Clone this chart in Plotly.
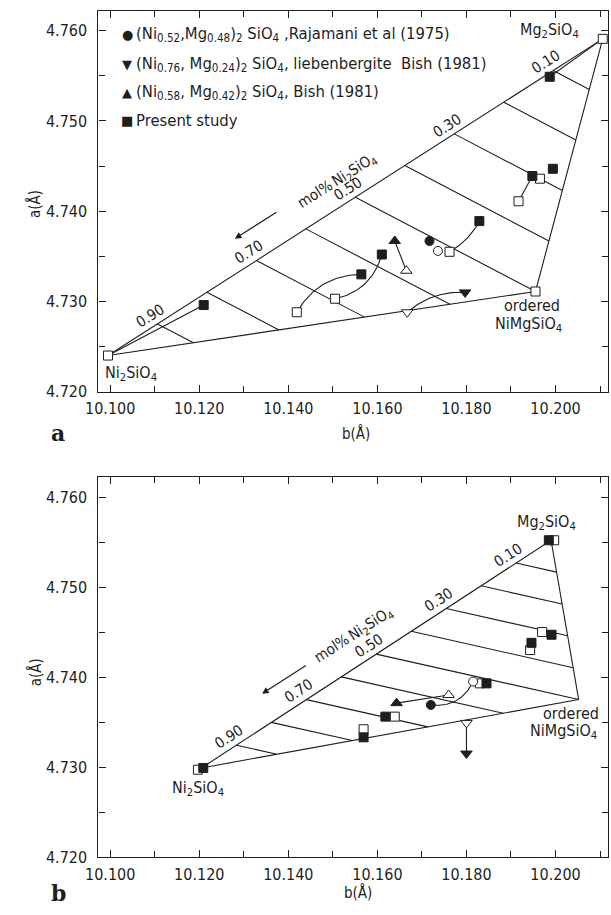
import math
import numpy as np
import plotly.graph_objects as go

W, H = 611, 915

# ---------------- data ----------------
# end members: Ni2SiO4, Mg2SiO4, ordered NiMgSiO4   (b, a in Angstrom)
end_names = ["Ni2SiO4", "Mg2SiO4", "ordered NiMgSiO4"]
a_end_b = [10.0995, 10.2106, 10.1955]
a_end_a = [4.7240, 4.7591, 4.7311]
b_end_b = [10.1205, 10.1990, 10.2052]
b_end_a = [4.7299, 4.7552, 4.7375]

tie_fracs = [0.1, 0.2, 0.3, 0.4, 0.5, 0.6, 0.7, 0.8, 0.9]
comp_label_fracs = [0.1, 0.3, 0.5, 0.7, 0.9]
comp_labels = ["0.10", "0.30", "0.50", "0.70", "0.90"]

# panel a
a_fsq_b = [10.1987, 10.1994, 10.1948, 10.1829, 10.1610, 10.1564, 10.1210]
a_fsq_a = [4.7549, 4.7447, 4.7439, 4.7389, 4.7352, 4.7330, 4.7296]
a_osq_b = [10.1965, 10.1917, 10.1762, 10.1505, 10.1419]
a_osq_a = [4.7436, 4.7411, 4.7355, 4.7303, 4.7288]
a_fci_b, a_fci_a = [10.1717], [4.7367]
a_oci_b, a_oci_a = [10.1736], [4.7356]
a_ftu_b, a_ftu_a = [10.1639], [4.7367]
a_otu_b, a_otu_a = [10.1665], [4.7334]
a_ftd_b, a_ftd_a = [10.1797], [4.7310]
a_otd_b, a_otd_a = [10.1667], [4.7288]
# connections (from group, index, to group, index, bend)
a_links = [("end", 1, "fsq", 0, 0.0), ("end", 0, "fsq", 6, 0.0),
           ("osq", 1, "fsq", 2, 0.0), ("osq", 2, "fsq", 3, -0.15),
           ("osq", 4, "fsq", 5, 0.28), ("osq", 3, "fsq", 4, -0.3),
           ("otu", 0, "ftu", 0, 0.0), ("otd", 0, "ftd", 0, 0.2)]

# panel b
b_fsq_b = [10.1985, 10.1991, 10.1946, 10.1845, 10.1618, 10.1569, 10.1209]
b_fsq_a = [4.7552, 4.7447, 4.7438, 4.7393, 4.7356, 4.7333, 4.7299]
b_osq_b = [10.1997, 10.1970, 10.1943, 10.1830, 10.1639, 10.1569, 10.1197]
b_osq_a = [4.7552, 4.7450, 4.7430, 4.7393, 4.7356, 4.7342, 4.7297]
b_fci_b, b_fci_a = [10.1720], [4.7369]
b_oci_b, b_oci_a = [10.1815], [4.7395]
b_ftu_b, b_ftu_a = [10.1643], [4.7371]
b_otu_b, b_otu_a = [10.1760], [4.7380]
b_ftd_b, b_ftd_a = [10.1800], [4.7315]
b_otd_b, b_otd_a = [10.1800], [4.7349]
b_links = [("oci", 0, "fci", 0, 0.35), ("otu", 0, "ftu", 0, 0.0),
           ("otd", 0, "ftd", 0, 0.0)]

x_tick_vals = [10.100, 10.120, 10.140, 10.160, 10.180, 10.200]
x_tick_text = ["10.100", "10.120", "10.140", "10.160", "10.180", "10.200"]
y_tick_vals = [4.720, 4.730, 4.740, 4.750, 4.760]
y_tick_text = ["4.720", "4.730", "4.740", "4.750", "4.760"]

legend_symbols = ["\u25CF", "\u25BC", "\u25B2", "\u25A0"]
legend_texts = [
    "(Ni<sub>0.52</sub>,Mg<sub>0.48</sub>)<sub>2</sub> SiO<sub>4</sub> ,Rajamani et al (1975)",
    "(Ni<sub>0.76</sub>, Mg<sub>0.24</sub>)<sub>2</sub> SiO<sub>4</sub>, liebenbergite \u00a0Bish (1981)",
    "(Ni<sub>0.58</sub>, Mg<sub>0.42</sub>)<sub>2</sub> SiO<sub>4</sub>, Bish (1981)",
    "Present study",
]

# ---------------- layout geometry ----------------
XR = [10.09736, 10.2118]
YR = [4.71995, 4.7622]
X_DOM_PX = [87.3, 608.0]
A_DOM_PX = [11.0, 396.0]     # top, bottom (pixels from top)
B_DOM_PX = [482.0, 866.0]
SX = (X_DOM_PX[1] - X_DOM_PX[0]) / (XR[1] - XR[0])
SY = (A_DOM_PX[1] - A_DOM_PX[0]) / (YR[1] - YR[0])

TXT = "Liberation Sans Narrow, DejaVu Sans Condensed, Arial Narrow, sans-serif"
INK = "#1e1e1e"
LW = 1.1


def to_px(b, a):
    return np.array([(b - XR[0]) * SX, (a - YR[0]) * SY])


def to_data(p):
    return p[0] / SX + XR[0], p[1] / SY + YR[0]


fig = go.Figure()


def panel(xa, ya, end_b, end_a, groups, links, arrow_head, mol_off, lbl_off):
    ni = np.array([end_b[0], end_a[0]])
    mg = np.array([end_b[1], end_a[1]])
    od = np.array([end_b[2], end_a[2]])

    def upper(c):
        return mg + c * (ni - mg)

    def lower(c):
        if c <= 0.5:
            return mg + (c / 0.5) * (od - mg)
        return od + ((c - 0.5) / 0.5) * (ni - od)

    # triangle edges
    ex, ey = [], []
    for p, q in [(ni, mg), (ni, od), (od, mg)]:
        ex += [p[0], q[0], None]
        ey += [p[1], q[1], None]
    fig.add_trace(go.Scatter(x=ex, y=ey, mode="lines", xaxis=xa, yaxis=ya,
                             line=dict(color=INK, width=LW), hoverinfo="skip",
                             showlegend=False))
    # tie lines
    tx, ty = [], []
    for c in tie_fracs:
        p, q = upper(c), lower(c)
        tx += [p[0], q[0], None]
        ty += [p[1], q[1], None]
    fig.add_trace(go.Scatter(x=tx, y=ty, mode="lines", xaxis=xa, yaxis=ya,
                             line=dict(color=INK, width=LW), hoverinfo="skip",
                             showlegend=False))
    # connectors
    for g0, i0, g1, i1, bend in links:
        p0 = to_px(groups[g0][0][i0], groups[g0][1][i0])
        p1 = to_px(groups[g1][0][i1], groups[g1][1][i1])
        d = p1 - p0
        L = float(np.hypot(*d))
        n = np.array([-d[1], d[0]]) / L
        c = (p0 + p1) / 2 + bend * L * n
        t = np.linspace(0, 1, 30)[:, None]
        pts = (1 - t) ** 2 * p0 + 2 * (1 - t) * t * c + t ** 2 * p1
        bx, ay = zip(*[to_data(p) for p in pts])
        fig.add_trace(go.Scatter(x=list(bx), y=list(ay), mode="lines",
                                 xaxis=xa, yaxis=ya, hoverinfo="skip",
                                 line=dict(color=INK, width=LW),
                                 showlegend=False))
    # markers
    styles = {
        "end": ("square", 9, "white"), "osq": ("square", 9, "white"),
        "fsq": ("square", 9, INK), "oci": ("circle", 9, "white"),
        "fci": ("circle", 9, INK), "otu": ("triangle-up", 10, "white"),
        "ftu": ("triangle-up", 10, INK), "otd": ("triangle-down", 10, "white"),
        "ftd": ("triangle-down", 10, INK),
    }
    for key in ["end", "osq", "oci", "otu", "otd", "fsq", "fci", "ftu", "ftd"]:
        if key not in groups:
            continue
        bx, ay = groups[key]
        sym, size, col = styles[key]
        fig.add_trace(go.Scatter(x=bx, y=ay, mode="markers", xaxis=xa, yaxis=ya,
                                 marker=dict(symbol=sym, size=size, color=col,
                                             line=dict(color=INK, width=1)),
                                 hoverinfo="skip", showlegend=False))

    # composition labels along the upper edge
    v = to_px(*mg) - to_px(*ni)
    th = math.atan2(v[1], v[0])
    tang = np.array([math.cos(th), math.sin(th)])
    perp = np.array([-math.sin(th), math.cos(th)])

    def shift(perp_px, along_px):
        s = perp_px * perp + along_px * tang
        return float(s[0]), float(s[1])

    xref = "x" if xa == "x" else "x2"
    yref = "y" if ya == "y" else "y2"
    for c, lab in zip(comp_label_fracs, comp_labels):
        p = upper(c)
        sx, sy = shift(lbl_off, -2)
        fig.add_annotation(x=p[0], y=p[1], xref=xref, yref=yref, text=lab,
                           showarrow=False, textangle=-math.degrees(th),
                           xshift=sx, yshift=sy,
                           font=dict(family=TXT, size=15, color=INK))
    p = upper(0.5)
    sx, sy = shift(*mol_off)
    fig.add_annotation(x=p[0], y=p[1], xref=xref, yref=yref,
                       text="mol%\u2009Ni<sub>2</sub>SiO<sub>4</sub>",
                       showarrow=False, textangle=-math.degrees(th),
                       xshift=sx, yshift=sy,
                       font=dict(family=TXT, size=15, color=INK))
    # direction arrow
    p = upper(0.7)
    perp_px, along_px, length = arrow_head
    sx, sy = shift(perp_px, along_px)
    fig.add_annotation(x=p[0], y=p[1], xref=xref, yref=yref, text="",
                       showarrow=True, arrowhead=2, arrowsize=1.1, arrowwidth=1.2,
                       arrowcolor=INK, xshift=sx, yshift=sy,
                       ax=length * math.cos(th), ay=-length * math.sin(th))
    return ni, mg, od


groups_a = {"end": (a_end_b, a_end_a), "fsq": (a_fsq_b, a_fsq_a),
            "osq": (a_osq_b, a_osq_a), "fci": (a_fci_b, a_fci_a),
            "oci": (a_oci_b, a_oci_a), "ftu": (a_ftu_b, a_ftu_a),
            "otu": (a_otu_b, a_otu_a), "ftd": (a_ftd_b, a_ftd_a),
            "otd": (a_otd_b, a_otd_a)}
groups_b = {"fsq": (b_fsq_b, b_fsq_a), "osq": (b_osq_b, b_osq_a),
            "fci": (b_fci_b, b_fci_a), "oci": (b_oci_b, b_oci_a),
            "ftu": (b_ftu_b, b_ftu_a), "otu": (b_otu_b, b_otu_a),
            "ftd": (b_ftd_b, b_ftd_a), "otd": (b_otd_b, b_otd_a)}

panel("x", "y", a_end_b, a_end_a, groups_a, a_links,
      (30, -6.5, 51), (24, -6), 11)
panel("x2", "y2", b_end_b, b_end_a, groups_b, b_links,
      (29, -34, 54), (28, -8), 11)

# end-member labels (pixel offsets from the vertices)
vertex_labels = [
    ("x", "y", a_end_b[1], a_end_a[1], "Mg<sub>2</sub>SiO<sub>4</sub>", -53, 8),
    ("x", "y", a_end_b[0], a_end_a[0], "Ni<sub>2</sub>SiO<sub>4</sub>", 23, -18),
    ("x", "y", a_end_b[2], a_end_a[2], "ordered", -3, -14),
    ("x", "y", a_end_b[2], a_end_a[2], "NiMgSiO<sub>4</sub>", -7, -33),
    ("x2", "y2", b_end_b[1], b_end_a[1], "Mg<sub>2</sub>SiO<sub>4</sub>", -5, 18),
    ("x2", "y2", b_end_b[0], b_end_a[0], "Ni<sub>2</sub>SiO<sub>4</sub>", -3, -21),
    ("x2", "y2", b_end_b[2], b_end_a[2], "ordered", -8, -14),
    ("x2", "y2", b_end_b[2], b_end_a[2], "NiMgSiO<sub>4</sub>", -15, -32),
]
for xr, yr, bx, ay, txt, dx, dy in vertex_labels:
    fig.add_annotation(x=bx, y=ay, xref=xr, yref=yr, text=txt, showarrow=False,
                       xshift=dx, yshift=dy,
                       font=dict(family=TXT, size=16, color=INK))

# legend (panel a)
leg_rows_px = [35, 65, 93, 122]
for sym, txt, py in zip(legend_symbols, legend_texts, leg_rows_px):
    fig.add_annotation(x=116.7 / W, y=1 - py / H, xref="paper", yref="paper",
                       text=sym, showarrow=False, xanchor="center",
                       yanchor="middle",
                       font=dict(family="DejaVu Sans", size=13, color=INK))
    fig.add_annotation(x=124 / W, y=1 - py / H, xref="paper", yref="paper",
                       text=txt, showarrow=False, xanchor="left",
                       yanchor="middle",
                       font=dict(family=TXT, size=16.5, color=INK))

# axis titles and panel letters
for txt, px, py, ang in [("a(\u00c5)", 22.5, 206, -90), ("a(\u00c5)", 22.5, 679, -90),
                         ("b(\u00c5)", 350, 438, 0), ("b(\u00c5)", 353, 901, 0)]:
    fig.add_annotation(x=px / W, y=1 - py / H, xref="paper", yref="paper",
                       text=txt, showarrow=False, textangle=ang,
                       xanchor="center", yanchor="middle",
                       font=dict(family=TXT, size=15, color=INK))
for txt, py in [("a", 437), ("b", 902)]:
    fig.add_annotation(x=46 / W, y=1 - py / H, xref="paper", yref="paper",
                       text="<b>" + txt + "</b>", showarrow=False,
                       xanchor="center", yanchor="middle",
                       font=dict(family="DejaVu Serif, Liberation Serif, serif",
                                 size=22, color=INK))

tickfont = dict(family=TXT, size=16, color=INK)


def xaxis(anchor):
    return dict(range=XR, domain=[X_DOM_PX[0] / W, X_DOM_PX[1] / W], anchor=anchor,
                showline=True, linecolor=INK, linewidth=1.2, mirror="allticks",
                ticks="inside", ticklen=7, tickwidth=1, tickcolor=INK,
                tickmode="array", tickvals=x_tick_vals, ticktext=x_tick_text,
                minor=dict(ticks="inside", ticklen=6, tickwidth=1, tickcolor=INK,
                           dtick=0.01, tick0=10.1, showgrid=False),
                showgrid=False, zeroline=False, tickfont=tickfont,
                ticklabelstandoff=2)


def yaxis(anchor, dom_px):
    return dict(range=YR, domain=[1 - dom_px[1] / H, 1 - dom_px[0] / H], anchor=anchor,
                showline=True, linecolor=INK, linewidth=1.2, mirror="allticks",
                ticks="inside", ticklen=7, tickwidth=1, tickcolor=INK,
                tickmode="array", tickvals=y_tick_vals, ticktext=y_tick_text,
                minor=dict(ticks="inside", ticklen=6, tickwidth=1, tickcolor=INK,
                           dtick=0.005, tick0=4.72, showgrid=False),
                showgrid=False, zeroline=False, tickfont=tickfont,
                ticklabelstandoff=7)


fig.update_layout(
    width=W, height=H, margin=dict(l=0, r=0, t=0, b=0),
    paper_bgcolor="white", plot_bgcolor="white", showlegend=False,
    xaxis=xaxis("y"), yaxis=yaxis("x", A_DOM_PX),
    xaxis2=xaxis("y2"), yaxis2=yaxis("x2", B_DOM_PX),
)

fig.write_html("out.html", config={"displayModeBar": False})
